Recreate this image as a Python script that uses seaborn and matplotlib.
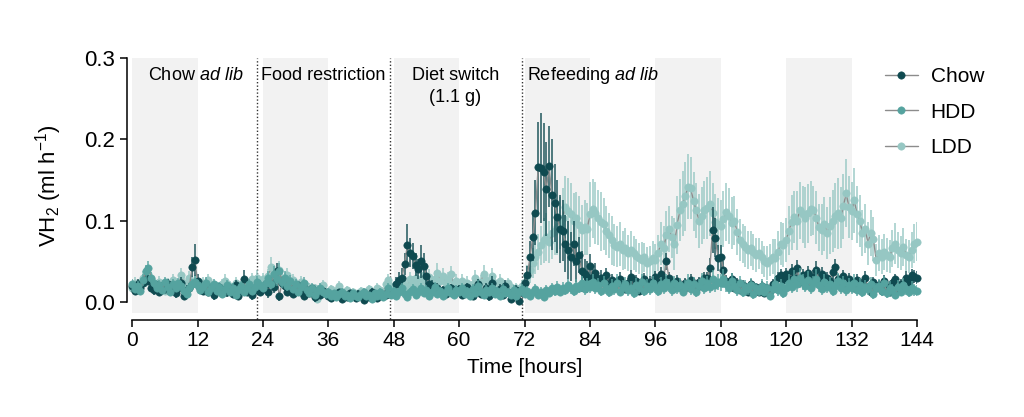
import numpy as np
import pandas as pd
import matplotlib
matplotlib.use('Agg')
import matplotlib.pyplot as plt
import seaborn as sns

# Tiempo (h), paso de 0.5 h
time_h = np.arange(0, 144.5, 0.5)

# VH2 medio por grupo, en 10^-3 ml/h (bloques de 12 h)
chow = [
    20, 14, 22, 17, 24, 30, 26, 18, 15, 21, 12, 19, 16, 22, 14, 20, 11, 17, 23, 8, 15, 18, 43, 52,
    26, 18, 14, 20, 12, 17, 9, 15, 19, 11, 16, 13, 18, 10, 21, 8, 14, 28, 12, 17, 9, 15, 20, 13,
    16, 22, 12, 25, 19, 38, 7, 24, 20, 13, 18, 10, 16, 21, 12, 8, 15, 11, 17, 6, 13, 9, 14, 11,
    8, 5, 10, 7, 12, 4, 9, 6, 11, 8, 5, 10, 7, 3, 9, 6, 12, 8, 5, 10, 7, 9, 14, 11,
    12, 22, 27, 30, 47, 70, 61, 57, 46, 41, 50, 45, 32, 22, 20, 16, 18, 12, 15, 10, 14, 17, 11, 13,
    16, 9, 14, 19, 12, 8, 15, 22, 10, 13, 18, 7, 24, 14, 11, 16, 9, 20, 13, 4, 10, 15, 1, 12,
    23, 33, 55, 80, 110, 166, 165, 160, 139, 167, 132, 122, 105, 90, 88, 72, 64, 56, 72, 50, 58, 38, 35, 31,
    45, 31, 36, 28, 30, 25, 33, 22, 27, 18, 24, 29, 20, 16, 23, 31, 19, 26, 14, 22, 28, 17, 25, 21,
    31, 25, 35, 28, 50, 30, 22, 18, 26, 20, 15, 24, 19, 27, 22, 16, 25, 20, 30, 30, 42, 89, 79, 54,
    56, 40, 26, 20, 28, 18, 24, 15, 21, 17, 12, 22, 16, 19, 13, 20, 11, 17, 14, 22, 18, 30, 33, 27,
    34, 28, 38, 30, 42, 25, 33, 29, 36, 24, 31, 40, 27, 35, 22, 30, 26, 37, 43, 28, 25, 32, 20, 29,
    24, 18, 27, 15, 22, 30, 19, 13, 25, 17, 21, 14, 26, 19, 12, 23, 28, 16, 22, 18, 30, 25, 33, 31,
    30,
]
hdd = [
    22, 16, 20, 14, 27, 38, 42, 30, 24, 18, 21, 15, 25, 19, 13, 22, 17, 24, 20, 14, 10, 18, 22, 25,
    21, 15, 19, 24, 12, 17, 22, 14, 19, 10, 16, 21, 13, 18, 9, 15, 20, 12, 17, 22, 14, 19, 25, 21,
    18, 24, 30, 22, 35, 28, 38, 25, 30, 20, 26, 16, 22, 13, 19, 24, 15, 11, 18, 9, 14, 17, 12, 10,
    13, 8, 11, 6, 10, 12, 7, 9, 5, 11, 8, 6, 10, 13, 7, 9, 4, 11, 8, 12, 6, 10, 18, 9,
    14, 8, 12, 17, 10, 6, 13, 16, 9, 12, 18, 11, 15, 8, 13, 19, 10, 14, 7, 12, 17, 11, 9, 15,
    12, 18, 10, 14, 8, 16, 11, 20, 13, 9, 15, 12, 18, 10, 14, 7, 16, 11, 13, 9, 15, 8, 12, 16,
    10, 14, 8, 12, 16, 9, 13, 6, 15, 11, 17, 14, 19, 12, 18, 15, 21, 17, 14, 20, 18, 23, 16, 22,
    19, 25, 17, 21, 14, 23, 18, 12, 20, 16, 24, 13, 19, 22, 15, 18, 11, 21, 17, 25, 14, 20, 16, 23,
    19, 14, 22, 17, 25, 20, 15, 23, 18, 21, 13, 19, 24, 16, 22, 12, 20, 26, 17, 23, 19, 28, 21, 25,
    24, 29, 22, 18, 26, 20, 15, 23, 12, 19, 16, 21, 10, 17, 14, 20, 13, 18, 8, 16, 22, 15, 20, 11,
    17, 24, 19, 28, 22, 30, 25, 20, 27, 18, 23, 29, 21, 16, 25, 19, 22, 14, 20, 26, 17, 23, 15, 21,
    18, 24, 15, 21, 12, 19, 16, 22, 10, 17, 20, 14, 23, 11, 18, 15, 9, 19, 13, 21, 16, 12, 18, 15,
    14,
]
ldd = [
    18, 24, 15, 21, 30, 26, 35, 28, 22, 17, 25, 20, 14, 23, 19, 27, 16, 21, 33, 24, 18, 30, 22, 26,
    20, 15, 24, 18, 27, 21, 13, 19, 16, 22, 26, 14, 20, 17, 24, 12, 19, 23, 15, 21, 28, 25, 30, 24,
    28, 20, 32, 43, 36, 26, 40, 30, 24, 33, 19, 27, 22, 16, 25, 14, 20, 18, 11, 17, 4, 15, 21, 13,
    11, 16, 9, 14, 20, 12, 8, 15, 10, 13, 7, 11, 14, 9, 12, 16, 10, 13, 18, 15, 12, 22, 27, 20,
    16, 22, 19, 25, 14, 20, 28, 24, 30, 22, 27, 33, 25, 31, 23, 29, 36, 26, 32, 24, 28, 34, 22, 26,
    20, 26, 18, 24, 16, 22, 30, 19, 25, 35, 27, 21, 32, 24, 18, 26, 20, 15, 23, 19, 12, 18, 14, 20,
    25, 32, 40, 48, 55, 62, 70, 76, 80, 74, 85, 88, 92, 97, 104, 117, 112, 108, 100, 103, 95, 89, 92, 90,
    108, 115, 110, 104, 99, 96, 88, 82, 76, 70, 68, 72, 64, 66, 60, 64, 60, 57, 54, 52, 55, 48, 50, 54,
    52, 60, 72, 66, 82, 90, 80, 72, 95, 113, 121, 130, 142, 140, 124, 113, 100, 106, 113, 116, 121, 110, 99, 96,
    93, 102, 111, 106, 97, 100, 86, 76, 72, 68, 64, 66, 62, 58, 60, 55, 50, 48, 52, 56, 54, 62, 72, 70,
    76, 88, 98, 105, 100, 113, 108, 104, 109, 115, 113, 104, 92, 89, 96, 85, 94, 100, 106, 109, 104, 118, 134, 117,
    112, 125, 108, 100, 85, 90, 72, 85, 78, 52, 60, 56, 62, 58, 56, 66, 72, 64, 60, 68, 58, 56, 64, 72,
    74,
]

# Error estándar, en 10^-3 ml/h
chow_err = [
    5, 4, 6, 5, 7, 6, 5, 4, 6, 5, 4, 6, 5, 7, 4, 5, 6, 4, 8, 5, 6, 5, 12, 20,
    8, 5, 4, 6, 5, 4, 6, 5, 4, 6, 5, 7, 4, 5, 6, 4, 5, 12, 5, 4, 6, 5, 7, 5,
    6, 5, 7, 6, 8, 10, 6, 7, 5, 6, 4, 5, 6, 4, 5, 4, 6, 5, 4, 6, 5, 4, 5, 4,
    4, 3, 4, 5, 3, 4, 3, 5, 4, 3, 4, 5, 3, 4, 4, 3, 5, 4, 3, 4, 5, 4, 6, 5,
    6, 9, 10, 12, 14, 26, 18, 16, 14, 12, 20, 15, 10, 8, 7, 6, 5, 6, 5, 4, 6, 5, 4, 5,
    5, 4, 6, 5, 4, 5, 6, 7, 5, 4, 6, 5, 8, 5, 4, 6, 5, 7, 5, 4, 5, 6, 5, 6,
    8, 12, 20, 30, 40, 55, 68, 60, 58, 50, 68, 48, 45, 42, 38, 35, 36, 30, 28, 25, 22, 25, 18, 20,
    14, 10, 12, 9, 10, 8, 9, 7, 8, 6, 7, 8, 6, 5, 7, 8, 6, 7, 5, 6, 8, 5, 7, 6,
    7, 6, 8, 6, 10, 7, 5, 6, 7, 5, 4, 6, 5, 7, 6, 5, 6, 5, 7, 7, 12, 28, 24, 16,
    14, 10, 7, 6, 8, 5, 6, 5, 6, 5, 4, 6, 5, 5, 4, 6, 4, 5, 4, 6, 5, 7, 8, 6,
    8, 7, 9, 7, 10, 6, 8, 7, 9, 6, 8, 10, 7, 8, 6, 7, 6, 9, 10, 7, 6, 8, 5, 7,
    6, 5, 7, 5, 6, 8, 5, 4, 6, 5, 6, 4, 7, 5, 4, 6, 7, 5, 6, 5, 8, 7, 8, 8,
    8,
]
hdd_err = [
    6, 5, 6, 5, 7, 8, 9, 7, 6, 5, 6, 5, 6, 5, 5, 6, 5, 6, 6, 5, 5, 6, 6, 7,
    6, 5, 6, 7, 5, 6, 6, 5, 6, 5, 5, 6, 5, 6, 5, 5, 6, 5, 6, 7, 5, 6, 7, 6,
    6, 7, 8, 6, 9, 8, 10, 7, 8, 6, 7, 5, 6, 5, 6, 7, 5, 5, 6, 4, 5, 6, 5, 4,
    5, 4, 4, 3, 4, 5, 3, 4, 3, 4, 4, 3, 4, 5, 3, 4, 3, 4, 4, 5, 3, 4, 6, 4,
    5, 4, 5, 6, 4, 4, 5, 6, 4, 5, 6, 5, 6, 4, 5, 6, 4, 5, 4, 5, 6, 5, 4, 6,
    5, 6, 4, 5, 4, 6, 5, 7, 5, 4, 6, 5, 6, 4, 5, 4, 6, 5, 5, 4, 6, 4, 5, 6,
    5, 6, 4, 5, 6, 5, 6, 4, 6, 5, 7, 6, 7, 5, 7, 6, 8, 7, 6, 8, 7, 9, 7, 8,
    8, 10, 7, 9, 6, 9, 8, 6, 8, 7, 10, 6, 8, 9, 7, 8, 6, 9, 7, 10, 6, 8, 7, 9,
    8, 6, 9, 7, 10, 8, 7, 9, 8, 9, 6, 8, 10, 7, 9, 6, 8, 10, 7, 9, 8, 11, 9, 10,
    10, 12, 9, 8, 10, 8, 7, 9, 6, 8, 7, 9, 6, 7, 6, 8, 6, 8, 5, 7, 9, 7, 8, 6,
    8, 10, 8, 12, 9, 12, 10, 8, 11, 8, 9, 12, 9, 7, 10, 8, 9, 7, 8, 10, 7, 9, 7, 9,
    8, 10, 7, 9, 6, 8, 7, 9, 6, 7, 8, 7, 9, 6, 8, 7, 5, 8, 6, 9, 7, 6, 8, 7,
    7,
]
ldd_err = [
    6, 7, 5, 6, 8, 7, 9, 8, 6, 5, 7, 6, 5, 7, 6, 8, 5, 6, 9, 7, 6, 8, 6, 7,
    6, 5, 7, 6, 8, 6, 5, 6, 5, 7, 8, 5, 6, 5, 7, 5, 6, 7, 5, 6, 8, 7, 9, 7,
    8, 6, 9, 12, 10, 8, 11, 9, 7, 9, 6, 8, 7, 5, 7, 5, 6, 6, 4, 5, 3, 5, 6, 5,
    4, 5, 4, 5, 6, 4, 3, 5, 4, 5, 3, 4, 5, 4, 4, 5, 4, 5, 6, 5, 4, 7, 8, 6,
    6, 7, 6, 8, 5, 7, 9, 8, 10, 7, 9, 11, 8, 10, 8, 9, 12, 9, 10, 8, 9, 11, 7, 8,
    7, 8, 6, 8, 6, 7, 9, 6, 8, 11, 9, 7, 10, 8, 6, 8, 7, 5, 7, 6, 5, 6, 5, 7,
    10, 14, 16, 18, 20, 22, 24, 28, 30, 26, 32, 30, 34, 32, 36, 38, 40, 38, 34, 32, 36, 30, 34, 32,
    40, 36, 38, 34, 36, 32, 30, 28, 30, 26, 25, 27, 24, 25, 22, 24, 21, 20, 19, 22, 18, 20, 19, 21,
    20, 22, 26, 28, 30, 28, 26, 32, 36, 38, 40, 42, 40, 38, 36, 34, 33, 35, 36, 38, 40, 36, 34, 32,
    32, 34, 36, 34, 32, 30, 28, 26, 24, 25, 23, 22, 22, 21, 19, 20, 19, 21, 20, 22, 24, 25, 26, 27,
    27, 30, 34, 32, 36, 35, 35, 37, 36, 34, 30, 32, 29, 31, 33, 32, 35, 38, 40, 44, 38, 40, 42, 38,
    36, 40, 35, 32, 28, 30, 26, 28, 27, 20, 22, 21, 22, 21, 20, 23, 25, 22, 21, 23, 20, 20, 22, 24,
    24,
]

groups = ['Chow', 'HDD', 'LDD']
colors = {'Chow': '#0f4a50', 'HDD': '#55a39f', 'LDD': '#96c7c3'}

# Fases del protocolo
light_phases = [(0, 12), (24, 36), (48, 60), (72, 84), (96, 108), (120, 132)]
switch_times = [23, 47.4, 71.6]

frames = []
for g, vals, errs in [('Chow', chow, chow_err), ('HDD', hdd, hdd_err), ('LDD', ldd, ldd_err)]:
    frames.append(pd.DataFrame({'Time': time_h, 'VH2': np.array(vals) / 1000,
                                'SEM': np.array(errs) / 1000, 'Grupo': g}))
df = pd.concat(frames, ignore_index=True)

sns.set_theme(style='ticks')
plt.rcParams['font.family'] = ['Liberation Sans', 'DejaVu Sans']
plt.rcParams['mathtext.fontset'] = 'custom'
plt.rcParams['mathtext.rm'] = 'Liberation Sans'
plt.rcParams['mathtext.it'] = 'Liberation Sans:italic'
plt.rcParams['text.color'] = 'black'
plt.rcParams['axes.labelcolor'] = 'black'

fig = plt.figure(figsize=(10.24, 4.17), dpi=100)
ax = fig.add_axes([0.129, 0.250, 0.7665, 0.611])

for a, b in light_phases:
    ax.axvspan(a, b, color='#f2f2f2', lw=0, zorder=0)
for s in switch_times:
    ax.vlines(s, -0.021, 0.3, colors='#333333', linestyles=(0, (1, 1.5)), lw=1, clip_on=False, zorder=1)

# Orden de dibujo: LDD, Chow, HDD
for i, g in enumerate(['LDD', 'Chow', 'HDD']):
    d = df[df['Grupo'] == g]
    ax.errorbar(d['Time'], d['VH2'], yerr=d['SEM'], fmt='none', ecolor=colors[g],
                elinewidth=1.2, alpha=0.85, zorder=2 + 2 * i)
    sns.lineplot(data=d, x='Time', y='VH2', ax=ax, color='#8c8c8c', lw=1.0,
                 marker='o', markersize=5.3, markerfacecolor=colors[g],
                 markeredgecolor=colors[g], markeredgewidth=0.4, label=g,
                 zorder=3 + 2 * i, clip_on=False)

txt = dict(fontsize=13, ha='center', va='center')
ax.text(11.6, 0.279, r'Chow $\mathit{ad\ lib}$', **txt)
ax.text(35, 0.279, 'Food restriction', **txt)
ax.text(59.3, 0.279, 'Diet switch', **txt)
ax.text(59.3, 0.251, '(1.1 g)', **txt)
ax.text(72.4, 0.279, r'Refeeding $\mathit{ad\ lib}$', fontsize=13, ha='left', va='center')

ax.set_xlim(0, 144)
ax.set_ylim(-0.013, 0.3)
ax.set_xticks(np.arange(0, 145, 12))
ax.set_yticks([0, 0.1, 0.2, 0.3])
ax.set_yticklabels(['0.0', '0.1', '0.2', '0.3'])
ax.set_xticklabels([str(v) for v in range(0, 145, 12)])
ax.set_xlabel('Time [hours]', fontsize=15, labelpad=6)
ax.set_ylabel(r'VH$_2$ (ml h$^{-1}$)', fontsize=16, labelpad=15)

sns.despine(ax=ax)
ax.spines['left'].set_position(('outward', 4))
ax.spines['bottom'].set_position(('outward', 5))
ax.spines['left'].set_bounds(0, 0.3)
ax.spines['bottom'].set_bounds(0, 144)
for sp in ['left', 'bottom']:
    ax.spines[sp].set_linewidth(1.1)
    ax.spines[sp].set_color('black')
ax.tick_params(axis='both', direction='out', length=5, width=1.1, colors='black', pad=3)
ax.tick_params(axis='y', labelsize=16)
ax.tick_params(axis='x', labelsize=15)
ax.set_facecolor('white')

handles, labels = ax.get_legend_handles_labels()
order = [labels.index(g) for g in groups]
ax.legend([handles[k] for k in order], groups, loc='upper left', bbox_to_anchor=(0.959, 0.965),
          frameon=False, fontsize=15, handlelength=1.6, labelspacing=0.8, handletextpad=0.6,
          borderaxespad=0, borderpad=0)

fig.savefig('out.png', dpi=100)
